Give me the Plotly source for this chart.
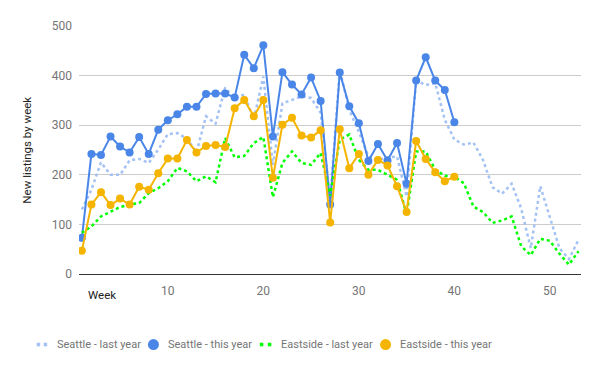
import plotly.graph_objects as go

weeks_last = list(range(1, 54))
weeks_this = list(range(1, 41))

seattle_last = [130,170,225,200,200,229,232,224,251,282,
                284,273,245,318,303,376,354,362,312,398,
                220,344,351,358,355,325,150,412,331,287,
                237,230,235,237,156,390,381,385,311,271,
                261,265,230,175,162,182,132,52,177,114,
                52,30,69]
seattle_this = [73,242,240,277,257,245,276,242,291,310,
                322,337,337,363,364,364,356,442,415,461,
                277,407,382,362,396,349,140,406,338,304,
                228,262,229,264,182,390,437,390,371,306]
eastside_last = [83,96,116,126,135,140,143,163,173,187,
                 214,207,187,197,185,274,235,238,264,276,
                 155,224,247,224,220,244,158,271,281,230,
                 210,210,200,190,120,247,247,210,198,196,
                 183,136,125,103,108,116,56,38,71,67,
                 41,19,46]
eastside_this = [47,140,165,139,152,140,176,170,203,233,
                 233,270,245,258,260,256,334,351,318,351,
                 194,301,315,279,275,290,104,292,213,242,
                 200,230,219,177,125,268,232,205,187,196]

series_names = ["Seattle - last year", "Seattle - this year",
                "Eastside - last year", "Eastside - this year"]
y_ticks = [0, 100, 200, 300, 400, 500]
x_ticks = [10, 20, 30, 40, 50]

C_SL = "#a4c2f4"
C_ST = "#4a86e8"
C_EL = "#00ff00"
C_ET = "#f4b400"

FONT = "Roboto"

fig = go.Figure()
fig.add_trace(go.Scatter(x=weeks_last, y=seattle_last, mode="lines",
                         line=dict(color=C_SL, width=2.5, dash="dot"),
                         name=series_names[0], showlegend=False))
fig.add_trace(go.Scatter(x=weeks_this, y=seattle_this, mode="lines+markers",
                         line=dict(color=C_ST, width=2),
                         marker=dict(color=C_ST, size=8),
                         name=series_names[1], showlegend=False))
fig.add_trace(go.Scatter(x=weeks_last, y=eastside_last, mode="lines",
                         line=dict(color=C_EL, width=2.5, dash="dot"),
                         name=series_names[2], showlegend=False))
fig.add_trace(go.Scatter(x=weeks_this, y=eastside_this, mode="lines+markers",
                         line=dict(color=C_ET, width=2),
                         marker=dict(color=C_ET, size=8),
                         name=series_names[3], showlegend=False))

# page has an 8px body margin; target plot-area in screen pixels
OFF = 8
L, R, T, B = 79.3, 581.0, 25.7, 274.3
W, H = 600, 371
def px(x):
    return (x - L) / (R - L)
def py(y):
    return (B - y) / (B - T)

shapes = []
annotations = []

ly = 345
for x0 in (37, 44):
    shapes.append(dict(type="rect", xref="paper", yref="paper",
                       x0=px(x0), x1=px(x0 + 3.5), y0=py(ly + 1.8), y1=py(ly - 1.8),
                       fillcolor=C_SL, line=dict(width=0)))
for x0 in (260, 268):
    shapes.append(dict(type="rect", xref="paper", yref="paper",
                       x0=px(x0), x1=px(x0 + 3.5), y0=py(ly + 1.8), y1=py(ly - 1.8),
                       fillcolor=C_EL, line=dict(width=0)))
for cx, col in ((153.7, C_ST), (385.7, C_ET)):
    shapes.append(dict(type="circle", xref="paper", yref="paper",
                       x0=px(cx - 5.5), x1=px(cx + 5.5), y0=py(ly + 5.5), y1=py(ly - 5.5),
                       fillcolor=col, line=dict(width=0)))
for tx, name in zip((55, 166, 279, 398), series_names):
    annotations.append(dict(text=name, xref="paper", yref="paper",
                            x=px(tx), y=py(ly), xanchor="left", yanchor="middle",
                            showarrow=False, font=dict(family=FONT, size=11, color="#757575")))

annotations.append(dict(text="New listings by week", xref="paper", yref="paper",
                        x=px(27), y=0.5, xanchor="center", yanchor="middle",
                        textangle=-90, showarrow=False,
                        font=dict(family=FONT, size=11.5, color="#222222")))
annotations.append(dict(text="Week", xref="paper", yref="paper",
                        x=px(102), y=py(295.5), xanchor="center", yanchor="middle",
                        showarrow=False, font=dict(family=FONT, size=11.5, color="#222222")))

fig.update_layout(
    width=W, height=H,
    margin=dict(l=L - OFF, r=W + OFF - R, t=T - OFF, b=H + OFF - B, pad=0),
    paper_bgcolor="white", plot_bgcolor="white",
    font=dict(family=FONT, size=12, color="#757575"),
    shapes=shapes, annotations=annotations,
    showlegend=False,
)
fig.update_xaxes(range=[0.7, 53.26], tickvals=x_ticks, showgrid=False,
                 zeroline=False, showline=True, linecolor="#333333", linewidth=1,
                 ticks="", ticklabelstandoff=6,
                 tickfont=dict(family=FONT, size=12, color="#757575"))
fig.update_yaxes(range=[0, 500], tickvals=y_ticks, showgrid=True,
                 gridcolor="#cccccc", gridwidth=1, zeroline=False, showline=False,
                 ticks="", ticklabelstandoff=6,
                 tickfont=dict(family=FONT, size=12, color="#757575"))

fig.write_html("out.html")
